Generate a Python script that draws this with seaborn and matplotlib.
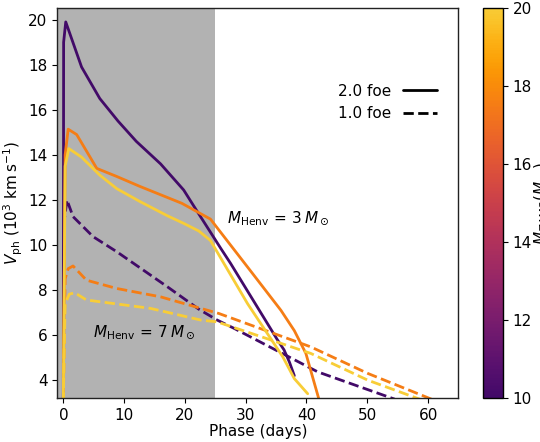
import numpy as np
import pandas as pd
import matplotlib
matplotlib.use("Agg")
import matplotlib.pyplot as plt
import matplotlib.colors as mcolors
from matplotlib.lines import Line2D
import seaborn as sns

# ---- data ----
masses = [10.0, 17.5, 20.0]
energies = ["2.0 foe", "1.0 foe"]

# 2.0 foe, M=10
t_10_2 = [0.0, 0.05, 0.4, 3.0, 6.0, 9.0, 12.0, 16.0, 19.8, 22.0, 25.9, 27.5, 35.2, 36.3, 37.2, 38.0]
v_10_2 = [3.0, 19.0, 19.9, 17.9, 16.5, 15.5, 14.6, 13.6, 12.44, 11.5, 9.85, 9.19, 5.8, 5.35, 4.8, 4.2]
# 2.0 foe, M=17.5
t_17_2 = [0.0, 0.3, 0.8, 2.2, 5.5, 8.8, 12.6, 19.5, 24.2, 30.8, 35.8, 38.0, 39.9, 42.0]
v_17_2 = [3.0, 14.0, 15.14, 14.9, 13.4, 13.04, 12.6, 11.85, 11.15, 8.85, 7.1, 6.2, 5.19, 3.2]
# 2.0 foe, M=20
t_20_2 = [0.0, 0.3, 0.9, 3.0, 6.0, 8.8, 12.6, 17.1, 19.8, 22.3, 24.2, 30.3, 36.1, 38.0, 40.2]
v_20_2 = [3.0, 13.5, 14.28, 13.9, 13.1, 12.5, 11.93, 11.3, 10.96, 10.62, 10.2, 7.4, 5.04, 4.07, 3.4]
# 1.0 foe, M=10
t_10_1 = [0.0, 0.2, 0.6, 1.6, 4.9, 8.8, 17.1, 22.3, 25.3, 28.1, 41.85, 54.5]
v_10_1 = [3.0, 11.2, 12.0, 11.26, 10.37, 9.7, 8.15, 7.15, 6.67, 6.3, 4.37, 3.16]
# 1.0 foe, M=17.5
t_17_1 = [0.0, 0.3, 0.8, 1.6, 3.8, 8.8, 16.0, 22.6, 25.6, 40.7, 50.1, 61.1]
v_17_1 = [3.0, 8.5, 8.95, 9.07, 8.44, 8.07, 7.7, 7.19, 6.96, 5.48, 4.3, 3.1]
# 1.0 foe, M=20
t_20_1 = [0.0, 0.3, 1.0, 1.9, 3.8, 14.3, 22.6, 25.3, 40.7, 50.1, 58.6]
v_20_1 = [3.0, 7.4, 7.82, 7.88, 7.56, 7.19, 6.67, 6.59, 5.19, 4.0, 3.16]

xticks = [0, 10, 20, 30, 40, 50, 60]
yticks = [4, 6, 8, 10, 12, 14, 16, 18, 20]
cbar_ticks = [10, 12, 14, 16, 18, 20]

# ---- build long table ----
rows = []
series = [
    (10.0, "2.0 foe", t_10_2, v_10_2),
    (17.5, "2.0 foe", t_17_2, v_17_2),
    (20.0, "2.0 foe", t_20_2, v_20_2),
    (10.0, "1.0 foe", t_10_1, v_10_1),
    (17.5, "1.0 foe", t_17_1, v_17_1),
    (20.0, "1.0 foe", t_20_1, v_20_1),
]
for m, e, t, v in series:
    for ti, vi in zip(t, v):
        rows.append({"mass": m, "energy": e, "t": ti, "v": vi, "run": f"{m}-{e}"})
df = pd.DataFrame(rows)

# truncated inferno colormap
base = plt.get_cmap("inferno")
cmap = mcolors.LinearSegmentedColormap.from_list(
    "inferno_trunc", base(np.linspace(0.2, 0.88, 256)))
norm = mcolors.Normalize(vmin=10, vmax=20)

sns.set_style("ticks")
plt.rcParams["font.family"] = ["DejaVu Sans"]
plt.rcParams["mathtext.fontset"] = "dejavusans"
for k in ["text.color", "axes.labelcolor", "xtick.color", "ytick.color", "axes.edgecolor"]:
    plt.rcParams[k] = "black"

fig = plt.figure(figsize=(5.4, 4.42), dpi=100)
ax = fig.add_axes([0.106, 0.099, 0.743, 0.882])
cax = fig.add_axes([0.895, 0.099, 0.036, 0.882])

ax.axvspan(-1, 25, color="gray", alpha=0.6, lw=0, zorder=0)

sns.lineplot(data=df, x="t", y="v", hue="mass", style="energy", units="run",
             estimator=None, sort=False, palette=cmap, hue_norm=norm,
             dashes={"2.0 foe": "", "1.0 foe": (3.7, 1.6)},
             style_order=energies, lw=2, legend=False, ax=ax)

ax.set_xlim(-1, 65)
ax.set_ylim(3.2, 20.5)
ax.set_xticks(xticks)
ax.set_yticks(yticks)
ax.tick_params(labelsize=11, direction="out", length=3.5, width=0.8, colors="black")
ax.set_xlabel("Phase (days)", fontsize=11, labelpad=1)
ax.set_ylabel(r"$V_\mathrm{ph}$ ($10^3$ km$\,$s$^{-1}$)", fontsize=11, labelpad=2)
for s in ax.spines.values():
    s.set_visible(True)
    s.set_linewidth(1.0)
    s.set_color("#222222")

ax.text(27.0, 11.19, r"$M_\mathrm{Henv}\,=\,3\,M_\odot$", fontsize=11, va="center", ha="left")
ax.text(4.9, 6.15, r"$M_\mathrm{Henv}\,=\,7\,M_\odot$", fontsize=11, va="center", ha="left")

handles = [Line2D([], [], color="black", lw=2, ls="-"),
           Line2D([], [], color="black", lw=2, ls=(0, (3.7, 1.6)))]
ax.legend(handles, energies, loc="upper right", bbox_to_anchor=(0.98, 0.842),
          frameon=False, markerfirst=False, fontsize=11, handlelength=2.2)

sm = matplotlib.cm.ScalarMappable(norm=norm, cmap=cmap)
cb = fig.colorbar(sm, cax=cax, ticks=cbar_ticks)
cb.ax.tick_params(labelsize=11, length=3.5, colors="black")
cb.outline.set_linewidth(1.0)
cb.set_label(r"$M_{ZAMS}(M_\odot)$", fontsize=11, labelpad=0)

fig.savefig("out.png", dpi=100)
